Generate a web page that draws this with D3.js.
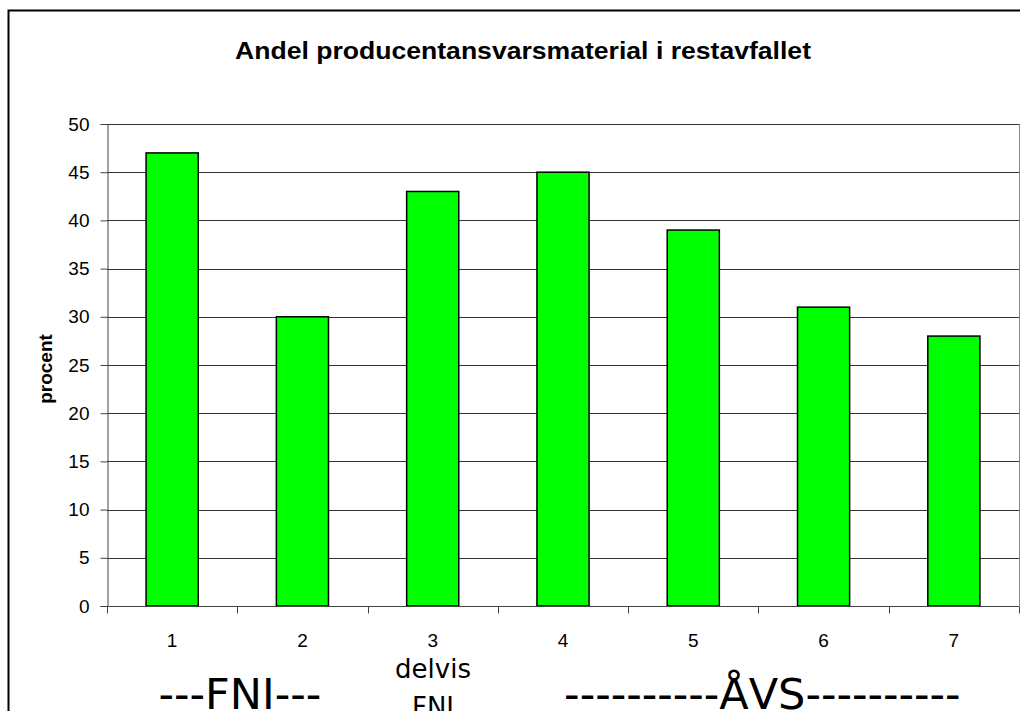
<!DOCTYPE html>
<html>
<head>
<meta charset="utf-8">
<script src="https://cdn.jsdelivr.net/npm/d3@7"></script>
<style>
  body { margin: 0; background: #fff; }
  svg { display: block; }
</style>
</head>
<body>
<div id="chart"></div>
<script>
// data
const categories = ["1", "2", "3", "4", "5", "6", "7"];
const values = [47, 30, 43, 45, 39, 31, 28];
const yTicks = [0, 5, 10, 15, 20, 25, 30, 35, 40, 45, 50];
// group captions, "at" = category boundary they are centred on
const groupLabels = [
    { text: "---FNI---", at: 1.02 },
    { text: "----------ÅVS----------", at: 5.03 }
];
const delvisLines = ["delvis", "FNI"];

const W = 1020, H = 711;
const plot = { left: 107, top: 124, right: 1019, bottom: 606 };
const armFont = "Arial, 'Liberation Sans', sans-serif";
const djvFont = "'DejaVu Sans', Verdana, sans-serif";

const svg = d3.select("#chart").append("svg")
    .attr("width", W)
    .attr("height", H);

// outer chart border (runs off right/bottom edge)
svg.append("rect")
    .attr("x", 8.5).attr("y", 10.5)
    .attr("width", 1040).attr("height", 740)
    .attr("fill", "#fff")
    .attr("stroke", "#000")
    .attr("stroke-width", 2);

const x = d3.scaleBand()
    .domain(categories)
    .range([plot.left, plot.right])
    .paddingInner(0.6)
    .paddingOuter(0.3);

const y = d3.scaleLinear()
    .domain([0, 50])
    .range([plot.bottom, plot.top]);

// position along category axis (0..7 boundaries)
const xb = d3.scaleLinear().domain([0, categories.length]).range([plot.left, plot.right]);

// gridlines
svg.append("g")
    .selectAll("line")
    .data(yTicks.filter(d => d > 0))
    .enter().append("line")
    .attr("x1", plot.left).attr("x2", plot.right)
    .attr("y1", d => Math.round(y(d)) + 0.5)
    .attr("y2", d => Math.round(y(d)) + 0.5)
    .attr("stroke", "#333")
    .attr("stroke-width", 1);

// right edge of plot area
svg.append("line")
    .attr("x1", plot.right + 0.5).attr("x2", plot.right + 0.5)
    .attr("y1", plot.top).attr("y2", plot.bottom)
    .attr("stroke", "#888");

// bars
svg.append("g")
    .selectAll("rect")
    .data(values)
    .enter().append("rect")
    .attr("x", (d, i) => x(categories[i]))
    .attr("y", d => y(d))
    .attr("width", x.bandwidth())
    .attr("height", d => y(0) - y(d))
    .attr("fill", "#00ff00")
    .attr("stroke", "#000")
    .attr("stroke-width", 1.5);

// y axis
const yAxis = svg.append("g")
    .attr("transform", `translate(${plot.left + 0.5},0)`)
    .call(d3.axisLeft(y).tickValues(yTicks).tickSize(7).tickPadding(11));
yAxis.select(".domain").attr("stroke", "#444");
yAxis.selectAll(".tick line").attr("stroke", "#444");
yAxis.selectAll("text")
    .attr("font-family", armFont)
    .attr("font-size", 19)
    .attr("fill", "#000");

// x axis: ticks sit at category boundaries
const xAxis = svg.append("g")
    .attr("transform", `translate(0,${plot.bottom + 0.5})`);
xAxis.append("line")
    .attr("x1", plot.left).attr("x2", plot.right)
    .attr("stroke", "#444");
xAxis.selectAll("line.tk")
    .data(d3.range(categories.length + 1))
    .enter().append("line")
    .attr("class", "tk")
    .attr("x1", d => Math.round(xb(d)) + 0.5)
    .attr("x2", d => Math.round(xb(d)) + 0.5)
    .attr("y1", 0).attr("y2", 7)
    .attr("stroke", "#444");
xAxis.selectAll("text")
    .data(categories)
    .enter().append("text")
    .attr("x", d => x(d) + x.bandwidth() / 2)
    .attr("y", 40)
    .attr("text-anchor", "middle")
    .attr("font-family", armFont)
    .attr("font-size", 19)
    .text(d => d);

// title
svg.append("text")
    .attr("x", 523)
    .attr("y", 59)
    .attr("text-anchor", "middle")
    .attr("font-family", armFont)
    .attr("font-weight", "bold")
    .attr("font-size", 23)
    .attr("textLength", 576)
    .attr("lengthAdjust", "spacingAndGlyphs")
    .text("Andel producentansvarsmaterial i restavfallet");

// y label
svg.append("text")
    .attr("transform", "translate(52,369) rotate(-90)")
    .attr("text-anchor", "middle")
    .attr("font-family", armFont)
    .attr("font-weight", "bold")
    .attr("font-size", 19)
    .text("procent");

// group captions under the axis
svg.selectAll("text.grp")
    .data(groupLabels)
    .enter().append("text")
    .attr("class", "grp")
    .attr("x", d => xb(d.at))
    .attr("y", 709)
    .attr("text-anchor", "middle")
    .attr("font-family", djvFont)
    .attr("font-size", 43)
    .text(d => d.text);

svg.selectAll("text.delvis")
    .data(delvisLines)
    .enter().append("text")
    .attr("class", "delvis")
    .attr("x", 433)
    .attr("y", (d, i) => 678 + i * 38)
    .attr("text-anchor", "middle")
    .attr("font-family", djvFont)
    .attr("font-size", 26)
    .text(d => d);
</script>
</body>
</html>
